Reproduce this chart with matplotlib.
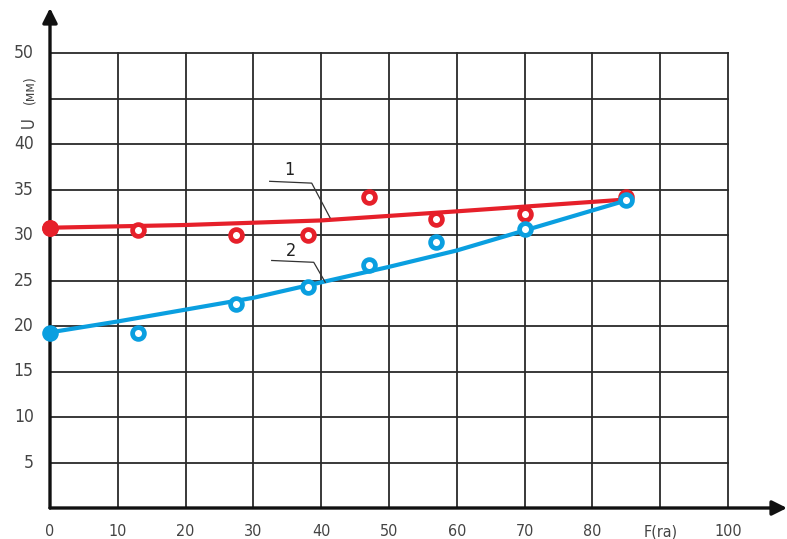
import matplotlib.pyplot as plt

# measured points
f_pts = [0, 13, 27.5, 38, 47, 57, 70, 85]
u1_pts = [30.8, 30.6, 30.0, 30.0, 34.2, 31.8, 32.3, 34.2]
u2_pts = [19.2, 19.2, 22.4, 24.3, 26.7, 29.2, 30.7, 33.8]

# trend lines
f_line1 = [0, 20, 40, 60, 85]
u_line1 = [30.8, 31.1, 31.6, 32.6, 33.9]
f_line2 = [0, 10, 20, 30, 40, 50, 60, 70, 85]
u_line2 = [19.3, 20.5, 21.8, 23.1, 24.8, 26.5, 28.3, 30.5, 33.8]

x_ticks = [0, 10, 20, 30, 40, 50, 60, 70, 80, 90, 100]
x_labels = ['0', '10', '20', '30', '40', '50', '60', '70', '80', 'F(ra)', '100']
y_ticks = [5, 10, 15, 20, 25, 30, 35, 40, 45, 50]
y_labels = ['5', '10', '15', '20', '25', '30', '35', '40', '', '50']

red = '#e6202a'
blue = '#0a9fe0'
grid_c = '#2a2a2a'
text_c = '#444444'

plt.rcParams['font.family'] = ['DejaVu Sans']
plt.rcParams['font.stretch'] = 'condensed'

fig = plt.figure(figsize=(7.87, 5.39), dpi=100)
W, H = 787, 539
px_x = 6.78   # pixels per unit F
px_y = 9.1    # pixels per unit U
x0, y0 = 50, 508
ax = fig.add_axes([x0 / W, 1 - y0 / H, (W - x0) / W, (y0 - 8) / H])
ax.set_xlim(0, (W - x0) / px_x)
ax.set_ylim(0, (y0 - 8) / px_y)
ax.axis('off')

# grid
for x in x_ticks[1:]:
    ax.plot([x, x], [0, 50], color=grid_c, lw=1.3, zorder=1)
for y in y_ticks:
    ax.plot([0, 100], [y, y], color=grid_c, lw=1.3, zorder=1)

# axes with arrows
ax.annotate('', xy=(ax.get_xlim()[1], 0), xytext=(0, 0),
            arrowprops=dict(arrowstyle='-|>', lw=2.4, color='#111111',
                            mutation_scale=22, shrinkA=0, shrinkB=0),
            annotation_clip=False, zorder=3)
ax.annotate('', xy=(0, ax.get_ylim()[1]), xytext=(0, 0),
            arrowprops=dict(arrowstyle='-|>', lw=2.4, color='#111111',
                            mutation_scale=22, shrinkA=0, shrinkB=0),
            annotation_clip=False, zorder=3)

# tick labels
for x, lab in zip(x_ticks, x_labels):
    ax.text(x, -3.1, lab, ha='center', va='baseline', fontsize=11.5, color=text_c)
for y, lab in zip(y_ticks, y_labels):
    ax.text(-2.4, y, lab, ha='right', va='center', fontsize=12.5, color=text_c)

# axis label
ax.text(-3.2, 42.4, 'U', rotation=90, ha='center', va='center', fontsize=12,
        color=text_c, clip_on=False)
ax.text(-3.1, 46.0, '(мм)', rotation=90, ha='center', va='center', fontsize=10,
        color=text_c, clip_on=False)

# curves
ax.plot(f_line1, u_line1, color=red, lw=3, zorder=4, clip_on=False)
ax.plot(f_line2, u_line2, color=blue, lw=3, zorder=4, clip_on=False)
ax.plot(f_pts, u1_pts, 'o', ms=8.5, mfc='white', mec=red, mew=3.4, zorder=5, clip_on=False)
ax.plot(f_pts, u2_pts, 'o', ms=8.5, mfc='white', mec=blue, mew=3.4, zorder=5, clip_on=False)
ax.plot([0], [u1_pts[0]], 'o', ms=11, color=red, zorder=6, clip_on=False)
ax.plot([0], [u2_pts[0]], 'o', ms=10, color=blue, zorder=6, clip_on=False)

# curve numbers with leaders
ax.plot([32.4, 38.6, 41.3], [35.9, 35.7, 31.9], color='#333333', lw=0.9, zorder=4)
ax.text(35.3, 36.2, '1', ha='center', va='bottom', fontsize=13, color='#222222')
ax.plot([32.7, 38.9, 40.6], [27.2, 27.0, 24.8], color='#333333', lw=0.9, zorder=4)
ax.text(35.6, 27.3, '2', ha='center', va='bottom', fontsize=13, color='#222222')

fig.savefig('out.png', dpi=100)
